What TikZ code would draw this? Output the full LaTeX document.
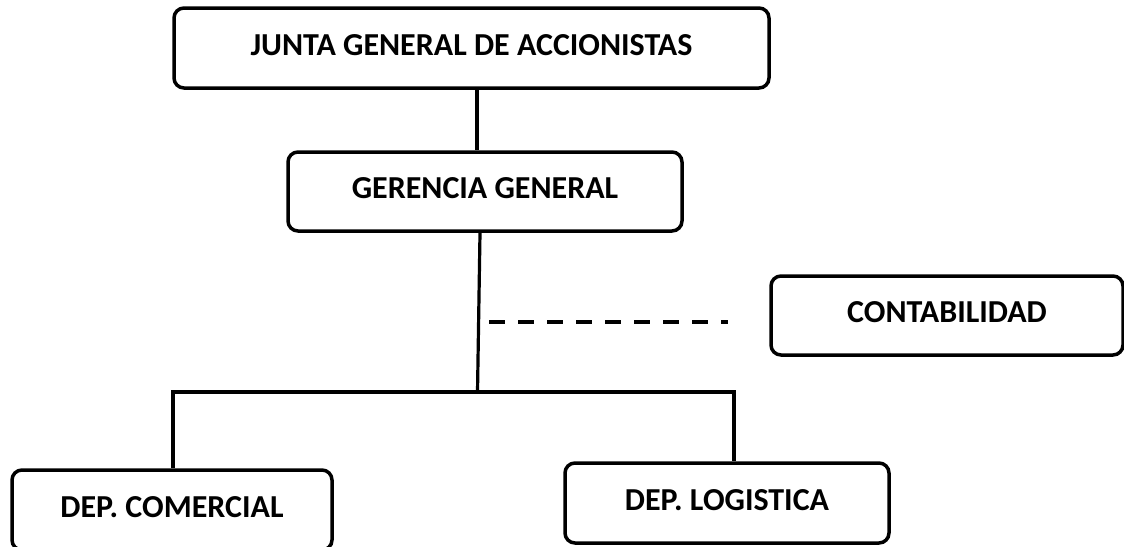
\documentclass[tikz,border=0pt]{standalone}
\usepackage{fontspec}
\setmainfont{Carlito}
\usetikzlibrary{calc}
\begin{document}
\begin{tikzpicture}[x=1pt,y=-1pt,
  orgbox/.style={draw=black, line width=3.5pt, rounded corners=10pt, fill=white,
    inner sep=0pt, font=\bfseries\fontsize{32}{38}\selectfont, text depth=6pt},
  link/.style={draw=black, line width=3.2pt, line join=miter},
  dotlink/.style={draw=black, line width=4pt, dash pattern=on 16pt off 13pt}]
\useasboundingbox (0,0) rectangle (1124,546);
\fill[white] (0,0) rectangle (1124,546);
\clip (0,0) rectangle (1124,546);

\node[orgbox, minimum width=595pt, minimum height=80pt] (junta) at (471.5,48) {JUNTA GENERAL DE ACCIONISTAS};
\node[orgbox, minimum width=394pt, minimum height=79pt] (gerencia) at (485,191.5) {GERENCIA GENERAL};
\node[orgbox, minimum width=352pt, minimum height=79pt] (contab) at (947,315.5) {CONTABILIDAD};
\node[orgbox, minimum width=324pt, minimum height=80pt] (logist) at (727,503) {DEP. LOGISTICA};
\node[orgbox, minimum width=320pt, minimum height=80pt] (comerc) at (172,510) {DEP. COMERCIAL};

\coordinate (busL) at (173,392);
\coordinate (busM) at (477.5,392);
\coordinate (busR) at (734,392);
\coordinate (dashS) at (489,322);
\coordinate (dashE) at (728,322);

\draw[link] ([xshift=5.5pt]junta.south) -- ([xshift=-8pt]gerencia.north);
\draw[link] ([xshift=-5pt]gerencia.south) -- (busM);
\draw[link] (comerc.north -| busL) -- (busL) -- (busR) -- (logist.north -| busR);
\draw[dotlink] (dashS) -- (dashE);
\end{tikzpicture}
\end{document}
